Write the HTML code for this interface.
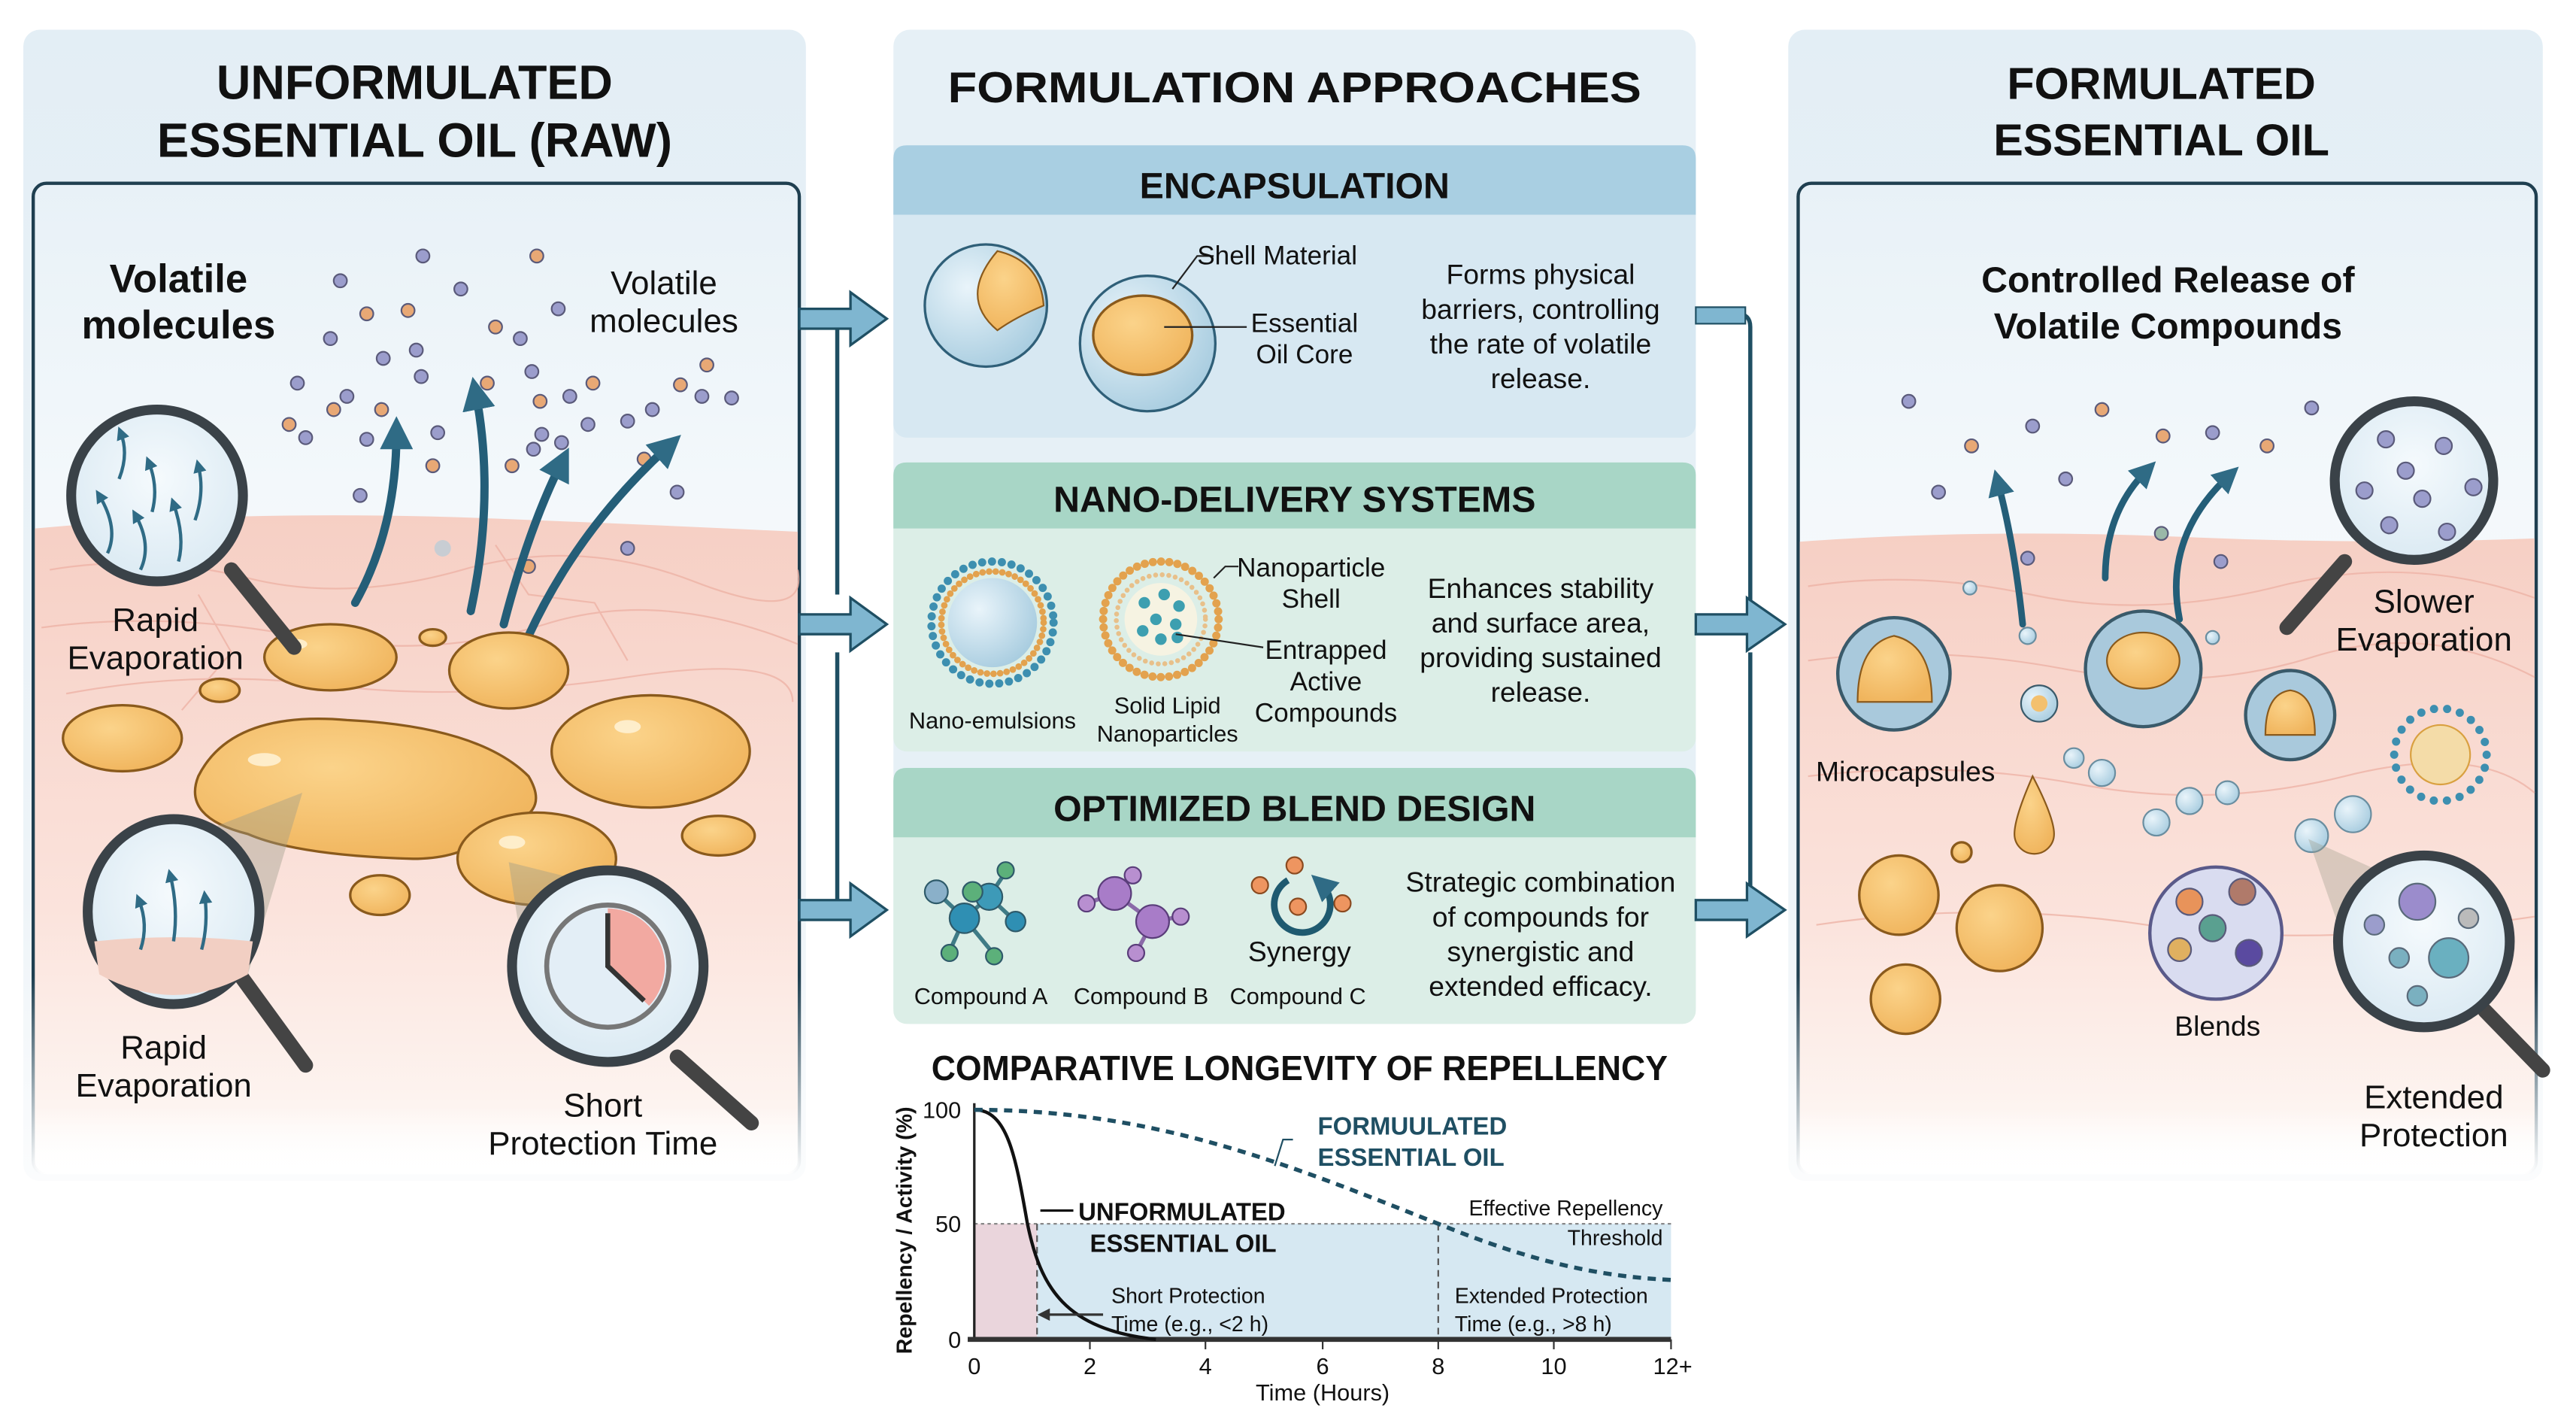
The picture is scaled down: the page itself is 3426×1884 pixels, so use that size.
<!DOCTYPE html>
<html><head><meta charset="utf-8">
<style>
html,body{margin:0;padding:0;background:#fff;}
svg{display:block;}
text{font-family:"Liberation Sans",sans-serif;fill:#111;}
.b{font-weight:bold;}
.n{font-family:"Liberation Sans Narrow","Liberation Sans",sans-serif;}
</style></head>
<body>
<svg width="3426" height="1884" viewBox="0 0 1560 858" xmlns="http://www.w3.org/2000/svg">
<defs>
<linearGradient id="panelbg" x1="0" y1="0" x2="0" y2="1">
<stop offset="0" stop-color="#e3eef5"/><stop offset="0.75" stop-color="#eef4f8"/><stop offset="1" stop-color="#fbfcfd"/></linearGradient>
<linearGradient id="inner" x1="0" y1="0" x2="0" y2="1">
<stop offset="0" stop-color="#e8f1f7"/><stop offset="0.3" stop-color="#f3f8fb"/><stop offset="1" stop-color="#fff"/></linearGradient>
<linearGradient id="bord" x1="0" y1="0" x2="0" y2="1">
<stop offset="0" stop-color="#1f3f50"/><stop offset="0.8" stop-color="#1f3f50"/><stop offset="1" stop-color="#1f3f50" stop-opacity="0"/></linearGradient>
<linearGradient id="skin" x1="0" y1="0" x2="0" y2="1">
<stop offset="0" stop-color="#f6cfc4"/><stop offset="0.6" stop-color="#fbe3dc"/><stop offset="0.9" stop-color="#fdf4f0"/><stop offset="1" stop-color="#fff" stop-opacity="0"/></linearGradient>
<radialGradient id="oil" cx="0.4" cy="0.35" r="0.7">
<stop offset="0" stop-color="#fbd38a"/><stop offset="1" stop-color="#f0b45c"/></radialGradient>
<radialGradient id="bub" cx="0.35" cy="0.35" r="0.7">
<stop offset="0" stop-color="#e9f4fa"/><stop offset="1" stop-color="#a9cde0"/></radialGradient>
<radialGradient id="glass" cx="0.5" cy="0.4" r="0.6">
<stop offset="0" stop-color="#f5fafd"/><stop offset="1" stop-color="#dbeaf3"/></radialGradient>
<marker id="ah" viewBox="0 0 10 10" refX="5" refY="5" markerWidth="4" markerHeight="4" orient="auto-start-reverse">
<path d="M0,0 L10,5 L0,10 z" fill="#2f6b85"/></marker>
<marker id="ahs" viewBox="0 0 10 10" refX="5" refY="5" markerWidth="5" markerHeight="5" orient="auto-start-reverse">
<path d="M0,0 L10,5 L0,10 z" fill="#333"/></marker>
</defs>

<rect width="1560" height="858" fill="#fff"/>

<!-- ============ LEFT PANEL ============ -->
<rect x="14" y="18" width="474" height="697" rx="10" fill="url(#panelbg)"/>
<text x="251" y="60" text-anchor="middle" class="b n" font-size="29" textLength="240" lengthAdjust="spacingAndGlyphs">UNFORMULATED</text>
<text x="251" y="95" text-anchor="middle" class="b n" font-size="29" textLength="312" lengthAdjust="spacingAndGlyphs">ESSENTIAL OIL (RAW)</text>
<rect x="20" y="111" width="464" height="600" rx="8" fill="url(#inner)" stroke="url(#bord)" stroke-width="2"/>
<path d="M21,320 Q150,308 300,314 Q400,318 483,322 L483,710 L21,710 Z" fill="url(#skin)"/>
<g stroke="#eeb3a6" stroke-width="1" fill="none" opacity="0.8">
<path d="M30,345 Q90,335 150,350 T280,345 T420,352 T483,345"/>
<path d="M25,380 Q100,370 180,385 T330,378 T483,390"/>
<path d="M40,420 Q120,405 200,415 T380,410 T480,425"/>
<path d="M300,330 L320,360 L360,365 L380,400"/>
<path d="M120,360 L140,395 L110,430"/>
</g>
<text x="108" y="177" text-anchor="middle" class="b" font-size="24">Volatile</text>
<text x="108" y="205" text-anchor="middle" class="b" font-size="24">molecules</text>
<text x="402" y="178" text-anchor="middle" font-size="20">Volatile</text>
<text x="402" y="201" text-anchor="middle" font-size="20">molecules</text>
<g stroke="#5a5a7a" stroke-width="1">
<g fill="#9b9dcc">
<circle cx="256" cy="155" r="4"/><circle cx="206" cy="170" r="4"/><circle cx="279" cy="175" r="4"/><circle cx="338" cy="187" r="4"/>
<circle cx="200" cy="205" r="4"/><circle cx="252" cy="212" r="4"/><circle cx="232" cy="217" r="4"/><circle cx="255" cy="228" r="4"/>
<circle cx="180" cy="232" r="4"/><circle cx="210" cy="240" r="4"/><circle cx="322" cy="225" r="4"/><circle cx="345" cy="240" r="4"/>
<circle cx="315" cy="205" r="4"/><circle cx="356" cy="257" r="4"/><circle cx="380" cy="255" r="4"/><circle cx="425" cy="240" r="4"/>
<circle cx="395" cy="248" r="4"/><circle cx="185" cy="265" r="4"/><circle cx="222" cy="266" r="4"/><circle cx="265" cy="262" r="4"/>
<circle cx="340" cy="268" r="4"/><circle cx="323" cy="272" r="4"/><circle cx="218" cy="300" r="4"/><circle cx="410" cy="298" r="4"/>
<circle cx="380" cy="332" r="4"/><circle cx="443" cy="241" r="4"/><circle cx="328" cy="263" r="4"/></g>
<g fill="#e8a875">
<circle cx="325" cy="155" r="4"/><circle cx="222" cy="190" r="4"/><circle cx="247" cy="188" r="4"/><circle cx="300" cy="198" r="4"/>
<circle cx="231" cy="248" r="4"/><circle cx="295" cy="232" r="4"/><circle cx="202" cy="248" r="4"/><circle cx="327" cy="243" r="4"/>
<circle cx="175" cy="257" r="4"/><circle cx="359" cy="232" r="4"/><circle cx="412" cy="233" r="4"/><circle cx="390" cy="278" r="4"/>
<circle cx="262" cy="282" r="4"/><circle cx="310" cy="282" r="4"/><circle cx="320" cy="343" r="4"/><circle cx="428" cy="221" r="4"/></g>
<circle cx="268" cy="332" r="5" fill="#c8cdd3" stroke="none"/>
</g>
<g stroke="#245e78" stroke-width="5" fill="none" stroke-linecap="round">
<path d="M215,365 Q240,320 240,262" marker-end="url(#ah)"/>
<path d="M285,370 Q300,300 288,238" marker-end="url(#ah)"/>
<path d="M305,378 Q320,320 340,280" marker-end="url(#ah)"/>
<path d="M320,385 Q350,320 405,270" marker-end="url(#ah)"/>
</g>
<g fill="url(#oil)" stroke="#8a5a1c" stroke-width="1.5">
<ellipse cx="200" cy="398" rx="40" ry="20"/>
<ellipse cx="262" cy="386" rx="8" ry="5"/>
<ellipse cx="308" cy="406" rx="36" ry="23"/>
<ellipse cx="133" cy="418" rx="12" ry="7"/>
<ellipse cx="74" cy="447" rx="36" ry="20"/>
<path d="M120,470 Q140,430 210,436 Q290,440 320,470 Q335,495 300,500 Q285,520 250,520 Q180,518 150,505 Q110,495 120,470 Z"/>
<ellipse cx="394" cy="455" rx="60" ry="34"/>
<ellipse cx="325" cy="520" rx="48" ry="28"/>
<ellipse cx="435" cy="506" rx="22" ry="12"/>
<ellipse cx="230" cy="542" rx="18" ry="12"/>
</g>
<g fill="#fff5dc" opacity="0.8">
<ellipse cx="180" cy="390" rx="6" ry="3"/><ellipse cx="380" cy="440" rx="8" ry="4"/><ellipse cx="160" cy="460" rx="10" ry="4"/><ellipse cx="310" cy="510" rx="8" ry="4"/>
</g>
<line x1="140" y1="345" x2="178" y2="392" stroke="#444" stroke-width="9" stroke-linecap="round"/>
<circle cx="95" cy="300" r="52" fill="url(#glass)" stroke="#3a4248" stroke-width="6"/>
<g stroke="#2f6b85" stroke-width="2" fill="none">
<path d="M65,335 Q72,320 60,300" marker-end="url(#ah)"/><path d="M85,345 Q92,330 82,312" marker-end="url(#ah)"/>
<path d="M108,340 Q112,325 105,305" marker-end="url(#ah)"/><path d="M92,310 Q96,295 90,280" marker-end="url(#ah)"/>
<path d="M118,315 Q124,298 120,282" marker-end="url(#ah)"/><path d="M72,290 Q78,275 73,262" marker-end="url(#ah)"/>
</g>
<text x="94" y="382" text-anchor="middle" font-size="20">Rapid</text>
<text x="94" y="405" text-anchor="middle" font-size="20">Evaporation</text>
<polygon points="183,480 80,520 150,590" fill="#9a9a8a" opacity="0.4"/>
<line x1="145" y1="590" x2="185" y2="645" stroke="#444" stroke-width="9" stroke-linecap="round"/>
<ellipse cx="105" cy="552" rx="52" ry="56" fill="url(#glass)" stroke="#3a4248" stroke-width="6"/>
<path d="M57,570 Q105,565 153,570 L150,590 Q105,615 60,590 Z" fill="#f2cfc3"/>
<g stroke="#2f6b85" stroke-width="2" fill="none">
<path d="M85,575 Q90,560 84,545" marker-end="url(#ah)"/><path d="M105,570 Q108,550 103,530" marker-end="url(#ah)"/>
<path d="M122,575 Q126,560 124,543" marker-end="url(#ah)"/></g>
<text x="99" y="641" text-anchor="middle" font-size="20">Rapid</text>
<text x="99" y="664" text-anchor="middle" font-size="20">Evaporation</text>
<polygon points="308,522 320,600 380,540" fill="#9a9a8a" opacity="0.4"/>
<line x1="410" y1="640" x2="455" y2="680" stroke="#444" stroke-width="9" stroke-linecap="round"/>
<circle cx="368" cy="585" r="58" fill="url(#glass)" stroke="#3a4248" stroke-width="6"/>
<circle cx="368" cy="585" r="37" fill="#e3eef6" stroke="#777" stroke-width="3"/>
<path d="M368,550 A35,35 0 0 1 393,609 L368,585 Z" fill="#f2a9a1"/>
<path d="M368,553 L368,585 L390,606" stroke="#333" stroke-width="3" fill="none"/>
<text x="365" y="676" text-anchor="middle" font-size="20">Short</text>
<text x="365" y="699" text-anchor="middle" font-size="20">Protection Time</text>

<!-- connectors left -->
<line x1="507" y1="193" x2="507" y2="360" stroke="#1f4f63" stroke-width="2.5"/>
<line x1="507" y1="395" x2="507" y2="552" stroke="#1f4f63" stroke-width="2.5"/>
<g fill="#7fb6d0" stroke="#1f4f63" stroke-width="1.5">
<path d="M484,187 L515,187 L515,177 L537,193 L515,209 L515,199 L484,199 Z"/>
<path d="M484,372 L515,372 L515,362 L537,378 L515,394 L515,384 L484,384 Z"/>
<path d="M484,545 L515,545 L515,535 L537,551 L515,567 L515,557 L484,557 Z"/>
</g>

<!-- middle panel -->
<rect x="541" y="18" width="486" height="602" rx="10" fill="#e6f0f6"/>
<text x="784" y="62" text-anchor="middle" class="b" font-size="26" textLength="420" lengthAdjust="spacingAndGlyphs">FORMULATION APPROACHES</text>
<rect x="541" y="88" width="486" height="177" rx="8" fill="#d7e8f2"/>
<path d="M541,130 L541,96 Q541,88 549,88 L1019,88 Q1027,88 1027,96 L1027,130 Z" fill="#a9cfe2"/>
<text x="784" y="120" text-anchor="middle" class="b" font-size="22">ENCAPSULATION</text>
<circle cx="597" cy="185" r="37" fill="url(#bub)" stroke="#2f5f78" stroke-width="1.5"/>
<path d="M604,152 Q630,158 632,185 Q615,192 604,200 Q580,180 604,152 Z" fill="url(#oil)" stroke="#8a5a1c" stroke-width="1"/>
<circle cx="695" cy="208" r="41" fill="url(#bub)" stroke="#2f5f78" stroke-width="1.5"/>
<ellipse cx="692" cy="203" rx="30" ry="24" fill="url(#oil)" stroke="#8a5a1c" stroke-width="1.5"/>
<path d="M710,175 L725,155 L735,155" stroke="#222" fill="none"/>
<path d="M705,198 L755,198" stroke="#222" fill="none"/>
<text x="725" y="160" font-size="16">Shell Material</text>
<text x="790" y="201" text-anchor="middle" font-size="16">Essential</text>
<text x="790" y="220" text-anchor="middle" font-size="16">Oil Core</text>
<text x="933" y="172" text-anchor="middle" font-size="17">Forms physical</text>
<text x="933" y="193" text-anchor="middle" font-size="17">barriers, controlling</text>
<text x="933" y="214" text-anchor="middle" font-size="17">the rate of volatile</text>
<text x="933" y="235" text-anchor="middle" font-size="17">release.</text>
<rect x="541" y="280" width="486" height="175" rx="8" fill="#dceee7"/>
<path d="M541,320 L541,288 Q541,280 549,280 L1019,280 Q1027,280 1027,288 L1027,320 Z" fill="#a8d6c6"/>
<text x="784" y="310" text-anchor="middle" class="b" font-size="22">NANO-DELIVERY SYSTEMS</text>
<circle cx="601" cy="377" r="27" fill="url(#bub)"/>
<circle cx="601" cy="377" r="31" fill="none" stroke="#e3a24e" stroke-width="4" stroke-dasharray="0 4" stroke-linecap="round"/>
<circle cx="601" cy="377" r="37" fill="none" stroke="#3d8fb0" stroke-width="5" stroke-dasharray="0 6" stroke-linecap="round"/>
<circle cx="703" cy="375" r="35" fill="none" stroke="#e3a24e" stroke-width="5" stroke-dasharray="0 5" stroke-linecap="round"/>
<circle cx="703" cy="375" r="27" fill="none" stroke="#e8c08a" stroke-width="3" stroke-dasharray="0 4" stroke-linecap="round"/>
<circle cx="703" cy="375" r="22" fill="#f6f3e2"/>
<g fill="#3d9fb0"><circle cx="693" cy="365" r="3.5"/><circle cx="705" cy="360" r="3.5"/><circle cx="714" cy="367" r="3.5"/><circle cx="700" cy="375" r="3.5"/><circle cx="712" cy="378" r="3.5"/><circle cx="692" cy="382" r="3.5"/><circle cx="703" cy="387" r="3.5"/><circle cx="713" cy="386" r="3.5"/></g>
<path d="M735,350 L742,343 L750,343" stroke="#222" fill="none"/>
<path d="M712,384 L765,392" stroke="#222" fill="none"/>
<text x="794" y="349" text-anchor="middle" font-size="16">Nanoparticle</text>
<text x="794" y="368" text-anchor="middle" font-size="16">Shell</text>
<text x="803" y="399" text-anchor="middle" font-size="16">Entrapped</text>
<text x="803" y="418" text-anchor="middle" font-size="16">Active</text>
<text x="803" y="437" text-anchor="middle" font-size="16">Compounds</text>
<text x="601" y="441" text-anchor="middle" font-size="14">Nano-emulsions</text>
<text x="707" y="432" text-anchor="middle" font-size="14">Solid Lipid</text>
<text x="707" y="449" text-anchor="middle" font-size="14">Nanoparticles</text>
<text x="933" y="362" text-anchor="middle" font-size="17">Enhances stability</text>
<text x="933" y="383" text-anchor="middle" font-size="17">and surface area,</text>
<text x="933" y="404" text-anchor="middle" font-size="17">providing sustained</text>
<text x="933" y="425" text-anchor="middle" font-size="17">release.</text>
<rect x="541" y="465" width="486" height="155" rx="8" fill="#dceee7"/>
<path d="M541,507 L541,473 Q541,465 549,465 L1019,465 Q1027,465 1027,473 L1027,507 Z" fill="#a8d6c6"/>
<text x="784" y="497" text-anchor="middle" class="b" font-size="22">OPTIMIZED BLEND DESIGN</text>
<g stroke="#3f7b86" stroke-width="2.5"><line x1="567" y1="540" x2="584" y2="556"/><line x1="584" y1="556" x2="599" y2="543"/><line x1="599" y1="543" x2="609" y2="528"/><line x1="599" y1="543" x2="615" y2="558"/><line x1="584" y1="556" x2="575" y2="576"/><line x1="584" y1="556" x2="602" y2="578"/></g>
<circle cx="567" cy="540" r="7" fill="#8ab0c9" stroke="#2e5a6a"/><circle cx="584" cy="556" r="9" fill="#2f8fb3" stroke="#2e5a6a"/><circle cx="599" cy="543" r="8" fill="#3d9ab8" stroke="#2e5a6a"/><circle cx="589" cy="540" r="6" fill="#5cb07a" stroke="#2e5a6a"/><circle cx="609" cy="527" r="5" fill="#5cb07a" stroke="#2e5a6a"/><circle cx="615" cy="558" r="6" fill="#2f8fb3" stroke="#2e5a6a"/><circle cx="575" cy="577" r="5" fill="#5cb07a" stroke="#2e5a6a"/><circle cx="602" cy="579" r="5" fill="#5cb07a" stroke="#2e5a6a"/>
<g stroke="#8a6aa8" stroke-width="2.5"><line x1="658" y1="547" x2="675" y2="541"/><line x1="675" y1="541" x2="686" y2="530"/><line x1="675" y1="541" x2="698" y2="558"/><line x1="698" y1="558" x2="715" y2="555"/><line x1="698" y1="558" x2="688" y2="577"/></g>
<circle cx="658" cy="547" r="5" fill="#b88fd0" stroke="#5a3d7a"/><circle cx="675" cy="541" r="10" fill="#a87cc8" stroke="#5a3d7a"/><circle cx="686" cy="530" r="5" fill="#b88fd0" stroke="#5a3d7a"/><circle cx="698" cy="558" r="10" fill="#a87cc8" stroke="#5a3d7a"/><circle cx="715" cy="555" r="5" fill="#b88fd0" stroke="#5a3d7a"/><circle cx="688" cy="577" r="5" fill="#b88fd0" stroke="#5a3d7a"/>
<g fill="#ee9560" stroke="#8a4a20"><circle cx="784" cy="524" r="5"/><circle cx="763" cy="536" r="5"/><circle cx="786" cy="549" r="5"/><circle cx="813" cy="547" r="5"/></g>
<path d="M780,533 A17,17 0 1 0 800,535" stroke="#1f5a70" stroke-width="4" fill="none" marker-end="url(#ah)"/>
<text x="787" y="582" text-anchor="middle" font-size="17">Synergy</text>
<text x="594" y="608" text-anchor="middle" font-size="14">Compound A</text>
<text x="691" y="608" text-anchor="middle" font-size="14">Compound B</text>
<text x="786" y="608" text-anchor="middle" font-size="14">Compound C</text>
<text x="933" y="540" text-anchor="middle" font-size="17">Strategic combination</text>
<text x="933" y="561" text-anchor="middle" font-size="17">of compounds for</text>
<text x="933" y="582" text-anchor="middle" font-size="17">synergistic and</text>
<text x="933" y="603" text-anchor="middle" font-size="17">extended efficacy.</text>

<!-- connectors right -->
<path d="M1027,190 L1052,190 Q1060,190 1060,198 L1060,366" stroke="#1f4f63" stroke-width="2.5" fill="none"/>
<line x1="1060" y1="395" x2="1060" y2="540" stroke="#1f4f63" stroke-width="2.5"/>
<rect x="1027" y="186" width="30" height="10" fill="#7fb6d0" stroke="#1f4f63" stroke-width="1"/>
<g fill="#7fb6d0" stroke="#1f4f63" stroke-width="1.5">
<path d="M1027,372 L1058,372 L1058,362 L1081,378 L1058,394 L1058,384 L1027,384 Z"/>
<path d="M1027,545 L1058,545 L1058,535 L1081,551 L1058,567 L1058,557 L1027,557 Z"/>
</g>

<!-- chart -->
<text x="787" y="654" text-anchor="middle" class="b n" font-size="21" textLength="446" lengthAdjust="spacingAndGlyphs">COMPARATIVE LONGEVITY OF REPELLENCY</text>
<rect x="590" y="741" width="38" height="70" fill="#ead5dc"/>
<rect x="628" y="741" width="384" height="70" fill="#d6e8f2"/>
<line x1="590" y1="741" x2="1012" y2="741" stroke="#888" stroke-width="1" stroke-dasharray="2 2"/>
<line x1="628" y1="741" x2="628" y2="811" stroke="#555" stroke-width="1" stroke-dasharray="4 3"/>
<line x1="871" y1="741" x2="871" y2="811" stroke="#555" stroke-width="1" stroke-dasharray="4 3"/>
<line x1="590" y1="668" x2="590" y2="812" stroke="#222" stroke-width="1.5"/>
<line x1="586" y1="811" x2="1012" y2="811" stroke="#333" stroke-width="3"/>
<g stroke="#333" stroke-width="1"><line x1="660" y1="811" x2="660" y2="817"/><line x1="730" y1="811" x2="730" y2="817"/><line x1="801" y1="811" x2="801" y2="817"/><line x1="871" y1="811" x2="871" y2="817"/><line x1="941" y1="811" x2="941" y2="817"/><line x1="1012" y1="811" x2="1012" y2="817"/></g>
<path d="M590,672 C610,672 615,700 622,740 C630,780 645,805 700,811" stroke="#111" stroke-width="2" fill="none"/>
<path d="M590,672 C700,672 780,705 871,741 C930,765 970,773 1012,775" stroke="#1f4f63" stroke-width="2.5" fill="none" stroke-dasharray="5 4"/>
<g font-size="14">
<text x="582" y="677" text-anchor="end" class="n">100</text>
<text x="582" y="746" text-anchor="end" class="n">50</text>
<text x="582" y="816" text-anchor="end" class="n">0</text>
<text x="590" y="832" text-anchor="middle" class="n">0</text><text x="660" y="832" text-anchor="middle" class="n">2</text><text x="730" y="832" text-anchor="middle" class="n">4</text><text x="801" y="832" text-anchor="middle" class="n">6</text><text x="871" y="832" text-anchor="middle" class="n">8</text><text x="941" y="832" text-anchor="middle" class="n">10</text><text x="1013" y="832" text-anchor="middle" class="n">12+</text>
<text x="801" y="848" text-anchor="middle" class="n" font-size="14">Time (Hours)</text>
</g>
<text transform="translate(552,745) rotate(-90)" text-anchor="middle" class="b" font-size="13">Repellency / Activity (%)</text>
<path d="M772,706 L777,690 L783,690" stroke="#1f4f63" fill="none"/>
<text x="798" y="687" class="b n" font-size="15" style="fill:#1f4f63">FORMUULATED</text>
<text x="798" y="706" class="b n" font-size="15" style="fill:#1f4f63">ESSENTIAL OIL</text>
<line x1="630" y1="733" x2="650" y2="733" stroke="#111" stroke-width="1.5"/>
<text x="653" y="739" class="b n" font-size="15">UNFORMULATED</text>
<text x="660" y="758" class="b n" font-size="15">ESSENTIAL OIL</text>
<text x="1007" y="736" text-anchor="end" class="n" font-size="13">Effective Repellency</text>
<text x="1007" y="754" text-anchor="end" class="n" font-size="13">Threshold</text>
<line x1="668" y1="796" x2="632" y2="796" stroke="#333" stroke-width="1.5" marker-end="url(#ahs)"/>
<text x="673" y="789" class="n" font-size="13">Short Protection</text>
<text x="673" y="806" class="n" font-size="13">Time (e.g., &lt;2 h)</text>
<text x="881" y="789" class="n" font-size="13">Extended Protection</text>
<text x="881" y="806" class="n" font-size="13">Time (e.g., &gt;8 h)</text>

<!-- right panel -->
<rect x="1083" y="18" width="457" height="697" rx="10" fill="url(#panelbg)"/>
<text x="1309" y="60" text-anchor="middle" class="b" font-size="27">FORMULATED</text>
<text x="1309" y="94" text-anchor="middle" class="b" font-size="27">ESSENTIAL OIL</text>
<rect x="1089" y="111" width="447" height="600" rx="8" fill="url(#inner)" stroke="url(#bord)" stroke-width="2"/>
<path d="M1090,328 Q1200,320 1320,325 Q1430,330 1535,326 L1535,710 L1090,710 Z" fill="url(#skin)"/>
<g stroke="#eeb3a6" stroke-width="1" fill="none" opacity="0.8">
<path d="M1095,355 Q1160,345 1230,360 T1380,355 T1535,362"/>
<path d="M1095,400 Q1170,390 1250,405 T1400,398 T1535,410"/>
<path d="M1095,470 Q1180,460 1260,475 T1420,470 T1535,480"/>
<path d="M1100,560 Q1200,545 1300,560 T1535,555"/>
</g>
<text x="1313" y="177" text-anchor="middle" class="b" font-size="22">Controlled Release of</text>
<text x="1313" y="205" text-anchor="middle" class="b" font-size="22">Volatile Compounds</text>
<g stroke="#5a5a7a" stroke-width="1">
<g fill="#9b9dcc"><circle cx="1156" cy="243" r="4"/><circle cx="1231" cy="258" r="4"/><circle cx="1174" cy="298" r="4"/><circle cx="1251" cy="290" r="4"/><circle cx="1340" cy="262" r="4"/><circle cx="1400" cy="247" r="4"/><circle cx="1228" cy="338" r="4"/><circle cx="1345" cy="340" r="4"/></g>
<g fill="#e8a875"><circle cx="1194" cy="270" r="4"/><circle cx="1273" cy="248" r="4"/><circle cx="1310" cy="264" r="4"/><circle cx="1373" cy="270" r="4"/></g>
<circle cx="1309" cy="323" r="4" fill="#9ab8a8"/>
</g>
<g fill="url(#bub)" stroke="#6a8ea0" stroke-width="1"><circle cx="1193" cy="356" r="4"/><circle cx="1228" cy="385" r="5"/><circle cx="1340" cy="386" r="4"/></g>
<g stroke="#245e78" stroke-width="4" fill="none" stroke-linecap="round">
<path d="M1225,378 Q1220,330 1210,292" marker-end="url(#ah)"/>
<path d="M1275,350 Q1275,310 1300,285" marker-end="url(#ah)"/>
<path d="M1320,375 Q1310,325 1350,288" marker-end="url(#ah)"/>
</g>
<line x1="1420" y1="340" x2="1385" y2="380" stroke="#444" stroke-width="9" stroke-linecap="round"/>
<circle cx="1462" cy="291" r="48" fill="url(#glass)" stroke="#3a4248" stroke-width="6"/>
<g fill="#9b9dcc" stroke="#5a5a7a"><circle cx="1445" cy="266" r="5"/><circle cx="1480" cy="270" r="5"/><circle cx="1457" cy="285" r="5"/><circle cx="1432" cy="297" r="5"/><circle cx="1467" cy="302" r="5"/><circle cx="1498" cy="295" r="5"/><circle cx="1447" cy="318" r="5"/><circle cx="1482" cy="322" r="5"/></g>
<text x="1468" y="371" text-anchor="middle" font-size="20">Slower</text>
<text x="1468" y="394" text-anchor="middle" font-size="20">Evaporation</text>
<g stroke="#3a5a6a" stroke-width="2">
<circle cx="1147" cy="408" r="34" fill="#a9c9dc"/>
<circle cx="1298" cy="405" r="35" fill="#a9c9dc"/>
<circle cx="1387" cy="433" r="27" fill="#a9c9dc"/>
</g>
<path d="M1125,425 Q1125,390 1147,385 Q1170,390 1170,425 Z" fill="url(#oil)" stroke="#8a5a1c"/>
<ellipse cx="1298" cy="400" rx="22" ry="17" fill="url(#oil)" stroke="#8a5a1c"/>
<path d="M1372,445 Q1372,420 1387,418 Q1402,420 1402,445 Z" fill="url(#oil)" stroke="#8a5a1c"/>
<circle cx="1235" cy="426" r="11" fill="url(#bub)" stroke="#3a5a6a"/><circle cx="1235" cy="426" r="5" fill="#f3c06e"/>
<text x="1154" y="473" text-anchor="middle" font-size="17">Microcapsules</text>
<g fill="url(#bub)" stroke="#6a8ea0" stroke-width="1"><circle cx="1256" cy="459" r="6"/><circle cx="1273" cy="468" r="8"/><circle cx="1306" cy="498" r="8"/><circle cx="1326" cy="485" r="8"/><circle cx="1349" cy="480" r="7"/><circle cx="1400" cy="506" r="10"/><circle cx="1425" cy="493" r="11"/></g>
<path d="M1231,470 Q1220,495 1220,505 A12,12 0 0 0 1244,505 Q1244,495 1231,470 Z" fill="url(#oil)" stroke="#8a5a1c"/>
<circle cx="1478" cy="457" r="18" fill="#f4dca8" stroke="#d9a040"/>
<circle cx="1478" cy="457" r="28" fill="none" stroke="#3d8fb0" stroke-width="5" stroke-dasharray="0 8" stroke-linecap="round"/>
<g fill="url(#oil)" stroke="#8a5a1c" stroke-width="1.5">
<circle cx="1150" cy="542" r="24"/><circle cx="1211" cy="562" r="26"/><circle cx="1154" cy="605" r="21"/><circle cx="1188" cy="516" r="6"/></g>
<circle cx="1342" cy="565" r="40" fill="#d9dcf0" stroke="#5a5a8a" stroke-width="2"/>
<g stroke="#5a5a7a"><circle cx="1326" cy="546" r="8" fill="#e8935a"/><circle cx="1358" cy="540" r="8" fill="#b07a6a"/><circle cx="1340" cy="562" r="8" fill="#5aa090"/><circle cx="1320" cy="575" r="7" fill="#e0b060"/><circle cx="1362" cy="577" r="8" fill="#5a4aa0"/></g>
<text x="1343" y="627" text-anchor="middle" font-size="17">Blends</text>
<polygon points="1398,508 1430,600 1480,545" fill="#9a9a8a" opacity="0.35"/>
<line x1="1505" y1="612" x2="1540" y2="648" stroke="#444" stroke-width="9" stroke-linecap="round"/>
<circle cx="1468" cy="570" r="52" fill="url(#glass)" stroke="#3a4248" stroke-width="6"/>
<g stroke="#5a6a7a"><circle cx="1464" cy="546" r="11" fill="#9b8ccc"/><circle cx="1438" cy="560" r="6" fill="#9b9dcc"/><circle cx="1495" cy="556" r="6" fill="#bbb"/><circle cx="1483" cy="580" r="12" fill="#6ab0c0"/><circle cx="1453" cy="580" r="6" fill="#7ab0c0"/><circle cx="1464" cy="603" r="6" fill="#7ab0c0"/></g>
<text x="1474" y="671" text-anchor="middle" font-size="20">Extended</text>
<text x="1474" y="694" text-anchor="middle" font-size="20">Protection</text>
</svg>
</body></html>
